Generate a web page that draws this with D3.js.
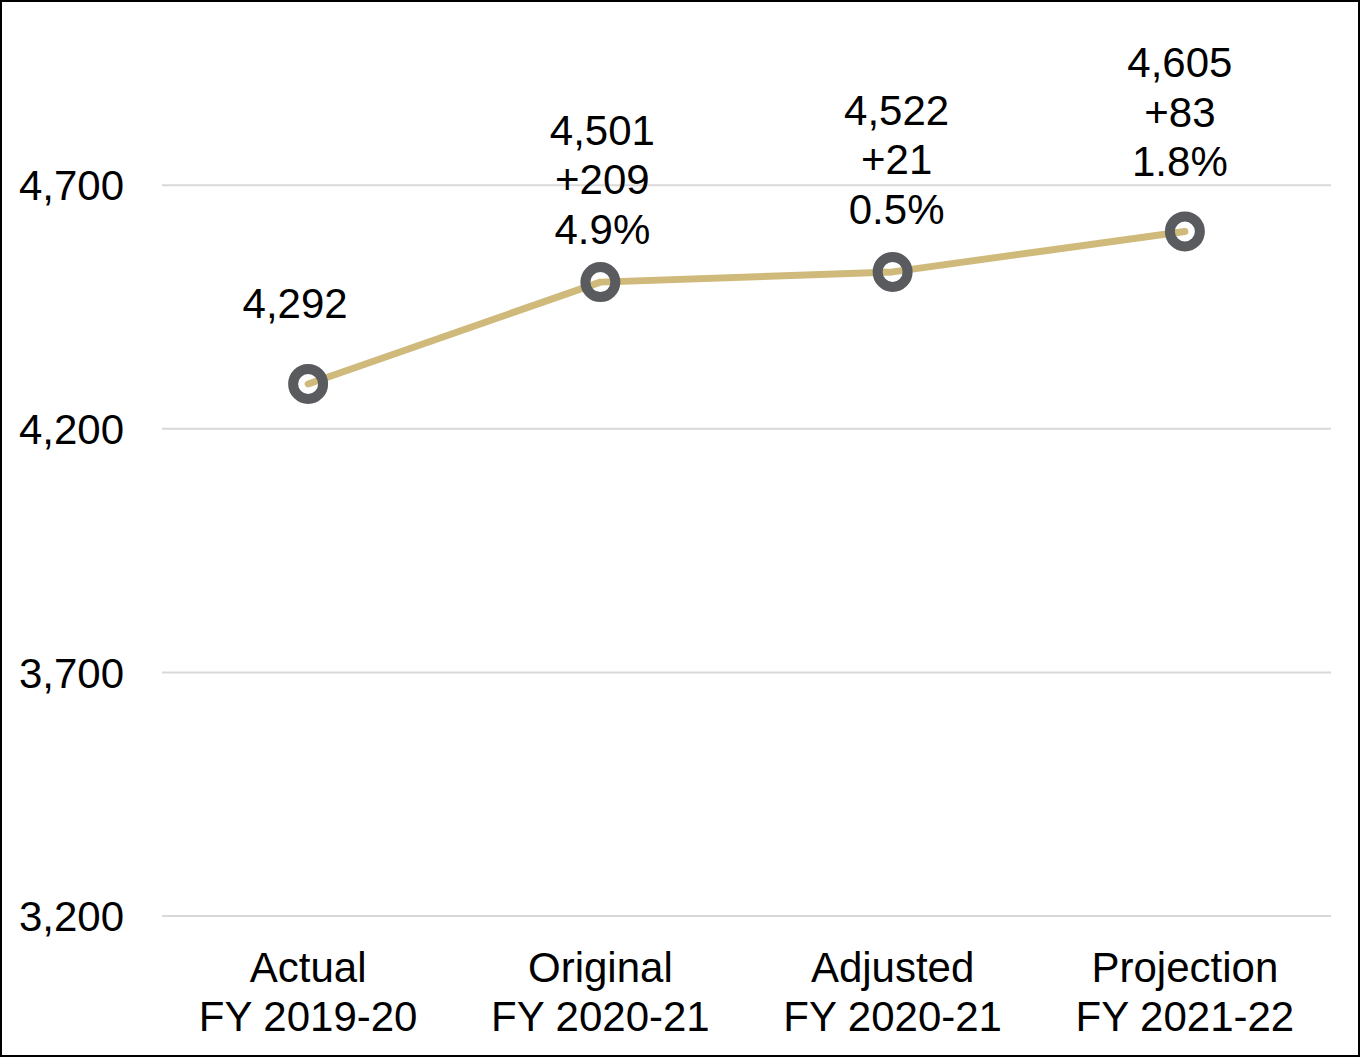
<!DOCTYPE html>
<html>
<head>
<meta charset="utf-8">
<script src="https://cdn.jsdelivr.net/npm/d3@7"></script>
<style>
  html, body { margin: 0; padding: 0; background: #fff; }
  svg { display: block; }
  text { font-family: "Liberation Sans", Arial, sans-serif; fill: #000; }
</style>
</head>
<body>
<svg id="chart" width="1360" height="1057"></svg>
<script>
// Enrollment by fiscal year
const categoryTop = ["Actual", "Original", "Adjusted", "Projection"];
const categoryBottom = ["FY 2019-20", "FY 2020-21", "FY 2020-21", "FY 2021-22"];
const values = [4292, 4501, 4522, 4605];
const yTicks = [3200, 3700, 4200, 4700];

// Label placement nudges (px) relative to each point
const labelDx = [-13, 2, 4, -5];
const labelDy = [-81, -53, -63, -70];

const W = 1360, H = 1057;
const svg = d3.select("#chart");
const fontSize = 42;
const lineGap = 49.5;

const plot = { left: 162, right: 1331, top: 39, bottom: 916 };

const x = d3.scalePoint()
  .domain(d3.range(values.length))
  .range([plot.left, plot.right])
  .padding(0.5);

const y = d3.scaleLinear()
  .domain([3200, 5000])
  .range([plot.bottom, plot.top]);

// Outer frame
svg.append("rect")
  .attr("x", 1).attr("y", 1)
  .attr("width", W - 2).attr("height", H - 2)
  .attr("fill", "none")
  .attr("stroke", "#000")
  .attr("stroke-width", 2);

// Horizontal gridlines
svg.append("g")
  .selectAll("line")
  .data(yTicks)
  .join("line")
  .attr("x1", plot.left).attr("x2", plot.right)
  .attr("y1", d => y(d)).attr("y2", d => y(d))
  .attr("stroke", "#d9d9d9")
  .attr("stroke-width", 2);

// Y axis labels
const yAxis = d3.axisLeft(y)
  .tickValues(yTicks)
  .tickFormat(d3.format(","))
  .tickSize(0)
  .tickPadding(0);
const gy = svg.append("g")
  .attr("transform", "translate(124,0)")
  .call(yAxis);
gy.select(".domain").remove();
gy.selectAll("text")
  .attr("font-size", fontSize)
  .attr("font-family", "'Liberation Sans', Arial, sans-serif")
  .attr("fill", "#000")
  .attr("dy", "0.35em");

// Category labels (two lines)
const cat = svg.append("g")
  .selectAll("text")
  .data(d3.range(values.length))
  .join("text")
  .attr("text-anchor", "middle")
  .attr("font-size", fontSize)
  .attr("x", i => x(i));
cat.append("tspan")
  .attr("x", i => x(i))
  .attr("y", 967)
  .attr("dy", "0.35em")
  .text(i => categoryTop[i]);
cat.append("tspan")
  .attr("x", i => x(i))
  .attr("y", 967 + lineGap)
  .attr("dy", "0.35em")
  .text(i => categoryBottom[i]);

// Line
const line = d3.line()
  .x((d, i) => x(i))
  .y(d => y(d));
svg.append("path")
  .datum(values)
  .attr("d", line)
  .attr("fill", "none")
  .attr("stroke", "#cfba7b")
  .attr("stroke-width", 7)
  .attr("stroke-linecap", "round")
  .attr("stroke-linejoin", "round");

// Ring markers
svg.append("g")
  .selectAll("circle")
  .data(values)
  .join("circle")
  .attr("cx", (d, i) => x(i))
  .attr("cy", d => y(d))
  .attr("r", 15)
  .attr("fill", "none")
  .attr("stroke", "#595b5e")
  .attr("stroke-width", 10);

// Data labels: value, change and percent change from previous
const fmt = d3.format(",");
const pct = d3.format(".1%");
const labels = svg.append("g")
  .selectAll("text")
  .data(values)
  .join("text")
  .attr("text-anchor", "middle")
  .attr("font-size", fontSize);

labels.each(function (d, i) {
  const lines = [fmt(d)];
  if (i > 0) {
    const diff = d - values[i - 1];
    lines.push((diff >= 0 ? "+" : "") + fmt(diff));
    lines.push(pct(diff / values[i - 1]));
  }
  const cx = x(i) + labelDx[i];
  const baseY = y(d) + labelDy[i];
  const n = lines.length;
  d3.select(this).selectAll("tspan")
    .data(lines)
    .join("tspan")
    .attr("x", cx)
    .attr("y", (t, k) => baseY - (n - 1 - k) * lineGap)
    .attr("dy", "0.35em")
    .text(t => t);
});
</script>
</body>
</html>
